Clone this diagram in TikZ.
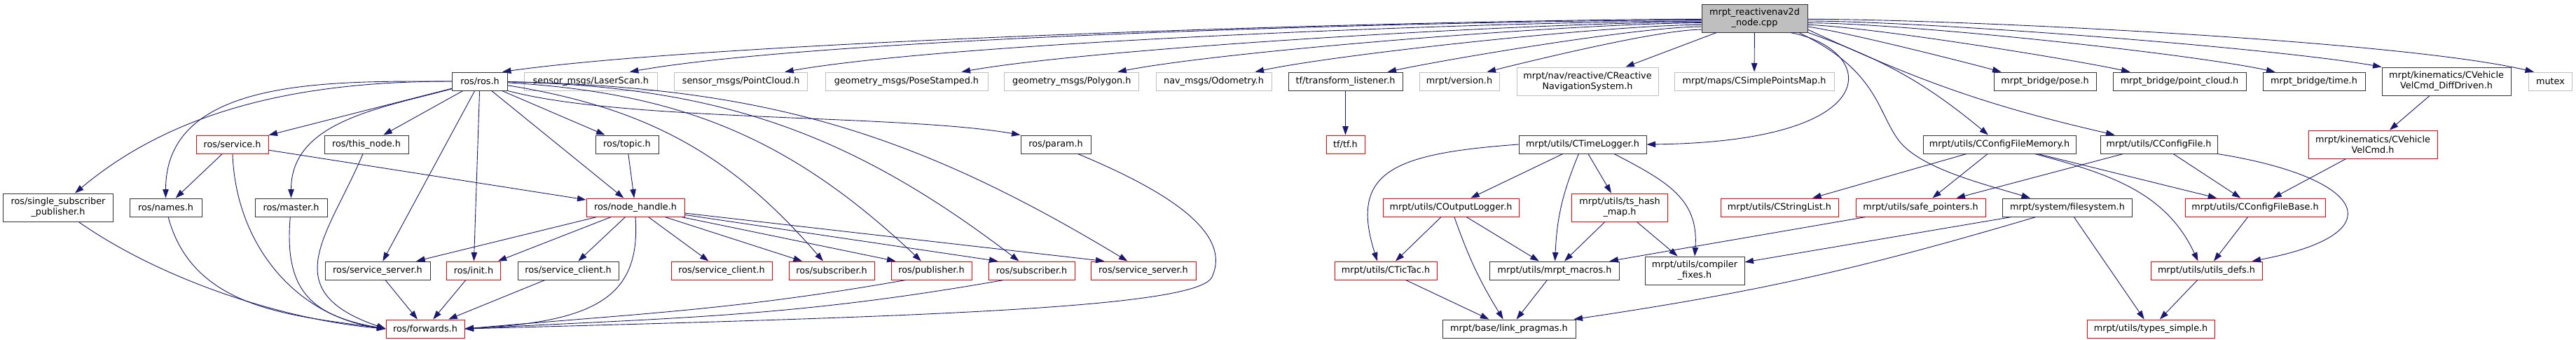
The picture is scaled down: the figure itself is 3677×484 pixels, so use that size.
\documentclass[tikz,border=0pt]{standalone}
\usepackage{fontspec}
\setmainfont{DejaVu Sans}
\usetikzlibrary{arrows.meta,calc}

\definecolor{edgeblue}{HTML}{191970}
\definecolor{grey75}{HTML}{BFBFBF}
% one unit of the picture is one pixel of the graph, drawn at 0.2pt
\def\sc{0.2}
\newcommand{\depfont}{\fontsize{2.56}{3}\selectfont}

\tikzset{
  incbox/.style={draw, rectangle, inner sep=0pt, minimum height=26*\sc pt, line width=0.2pt, font=\depfont, text=black},
  boxw/.style={minimum width=#1*\sc pt},
  blk/.style={incbox, draw=black!80},
  redb/.style={incbox, draw=red},
  gry/.style={incbox, draw=grey75},
  rootf/.style={incbox, draw=black!80, fill=grey75},
  twol/.style={minimum height=40*\sc pt, align=center},
  dep/.style={draw=edgeblue, line width=0.18pt, -{Triangle[length=2.5pt,width=1.7pt]}},
}

\begin{document}
\begin{tikzpicture}[x=\sc pt,y=\sc pt]
\useasboundingbox (0,0) rectangle (3677,484);

% the file itself
\node[rootf, twol, boxw=151] (root) at (2504.5,458) {mrpt\_reactivenav2d\\\_node.cpp};

% first row
\node[blk, boxw=79] (rosros) at (685,368) {ros/ros.h};
\node[gry, boxw=190] (laser) at (843.3,368) {sensor\_msgs/LaserScan.h};
\node[gry, boxw=190] (pcl) at (1057.7,368) {sensor\_msgs/PointCloud.h};
\node[gry, boxw=232] (posest) at (1294,368) {geometry\_msgs/PoseStamped.h};
\node[gry, boxw=192] (polygon) at (1529.8,368) {geometry\_msgs/Polygon.h};
\node[gry, boxw=165] (odom) at (1732.5,368) {nav\_msgs/Odometry.h};
\node[blk, boxw=163] (tflist) at (1920.5,368) {tf/transform\_listener.h};
\node[gry, boxw=114] (version) at (2083,368) {mrpt/version.h};
\node[gry, twol, boxw=202] (creactive) at (2266,368) {mrpt/nav/reactive/CReactive\\NavigationSystem.h};
\node[gry, boxw=228] (simplepts) at (2504,368) {mrpt/maps/CSimplePointsMap.h};
\node[blk, boxw=146] (bpose) at (2919,368) {mrpt\_bridge/pose.h};
\node[blk, boxw=190] (bpcl) at (3111,368) {mrpt\_bridge/point\_cloud.h};
\node[blk, boxw=146] (btime) at (3303,368) {mrpt\_bridge/time.h};
\node[blk, twol, boxw=184] (diffdriven) at (3492,368) {mrpt/kinematics/CVehicle\\VelCmd\_DiffDriven.h};
\node[gry, boxw=62] (mutex) at (3640.5,368) {mutex};

% second row
\node[redb, boxw=103] (service) at (331.5,278) {ros/service.h};
\node[blk, boxw=120] (thisnode) at (523,278) {ros/this\_node.h};
\node[blk, boxw=90] (topic) at (895,278) {ros/topic.h};
\node[blk, boxw=100] (param) at (1507,278) {ros/param.h};
\node[redb, boxw=55] (tftf) at (1920.5,278) {tf/tf.h};
\node[blk, boxw=182] (timelog) at (2259,278) {mrpt/utils/CTimeLogger.h};
\node[blk, boxw=218] (cfgmem) at (2854,278) {mrpt/utils/CConfigFileMemory.h};
\node[blk, boxw=167] (cfgfile) at (3081.5,278) {mrpt/utils/CConfigFile.h};
\node[redb, twol, boxw=184] (velcmd) at (3387,278) {mrpt/kinematics/CVehicle\\VelCmd.h};

% third row
\node[blk, twol, boxw=157] (singlesub) at (83,188) {ros/single\_subscriber\\\_publisher.h};
\node[blk, boxw=103] (names) at (236.5,188) {ros/names.h};
\node[blk, boxw=103] (master) at (415.5,188) {ros/master.h};
\node[redb, boxw=140] (nodehandle) at (907,188) {ros/node\_handle.h};
\node[redb, boxw=194] (outlog) at (2071,188) {mrpt/utils/COutputLogger.h};
\node[redb, twol, boxw=137] (tshash) at (2312,188) {mrpt/utils/ts\_hash\\\_map.h};
\node[redb, boxw=168] (strlist) at (2540,188) {mrpt/utils/CStringList.h};
\node[redb, boxw=185] (safeptr) at (2741.5,188) {mrpt/utils/safe\_pointers.h};
\node[blk, boxw=185] (filesys) at (2951,188) {mrpt/system/filesystem.h};
\node[redb, boxw=200] (cfgbase) at (3219,188) {mrpt/utils/CConfigFileBase.h};

% fourth row
\node[blk, boxw=150] (srvsrvb) at (539,98) {ros/service\_server.h};
\node[redb, boxw=77] (init) at (676,98) {ros/init.h};
\node[blk, boxw=144] (srvclib) at (811,98) {ros/service\_client.h};
\node[redb, boxw=144] (srvclir) at (1030,98) {ros/service\_client.h};
\node[redb, boxw=122] (subr) at (1187,98) {ros/subscriber.h};
\node[redb, boxw=115] (pub) at (1329.5,98) {ros/publisher.h};
\node[redb, boxw=123] (sub2) at (1472.5,98) {ros/subscriber.h};
\node[redb, boxw=150] (srvsrvr) at (1632,98) {ros/service\_server.h};
\node[redb, boxw=146] (tictac) at (1978,98) {mrpt/utils/CTicTac.h};
\node[blk, boxw=185] (macros) at (2219,98) {mrpt/utils/mrpt\_macros.h};
\node[blk, twol, boxw=142] (compfix) at (2419,98) {mrpt/utils/compiler\\\_fixes.h};
\node[redb, boxw=159] (utilsdefs) at (3149.5,98) {mrpt/utils/utils\_defs.h};

% last row
\node[redb, boxw=112] (forwards) at (607,15) {ros/forwards.h};
\node[blk, boxw=190] (linkpr) at (2154,15) {mrpt/base/link\_pragmas.h};
\node[redb, boxw=182] (typessimple) at (3070,15) {mrpt/utils/types\_simple.h};

% includes of the file itself
\draw[dep] (root.181) to[out=180,in=8,looseness=0.5] ($(rosros.north east)+(-8,0)$);
\draw[dep] (root.182) to[out=180,in=10,looseness=0.5] ($(laser.north east)+(-40,0)$);
\draw[dep] (root.183) to[out=180,in=10,looseness=0.5] ($(pcl.north east)+(-33,0)$);
\draw[dep] (root.184) to[out=180,in=10,looseness=0.5] ($(posest.north east)+(-38,0)$);
\draw[dep] (root.185) to[out=180,in=11,looseness=0.5] ($(polygon.north east)+(-31,0)$);
\draw[dep] (root.187) to[out=180,in=12,looseness=0.5] ($(odom.north east)+(-24,0)$);
\draw[dep] (root.189) to[out=180,in=12,looseness=0.5] ($(tflist.north east)+(-22,0)$);
\draw[dep] (root.192) to[out=180,in=14,looseness=0.5] ($(version.north east)+(-18,0)$);
\draw[dep] (root) -- (creactive);
\draw[dep] (root) -- (simplepts);
\draw[dep] (root.-1) to[out=0,in=167,looseness=0.5] ($(mutex.north west)+(8,0)$);
\draw[dep] (root.-3) to[out=0,in=170,looseness=0.5] (diffdriven.north west);
\draw[dep] (root.-5) to[out=0,in=168,looseness=0.5] ($(btime.north west)+(18,0)$);
\draw[dep] (root.-7) to[out=-2,in=168,looseness=0.5] ($(bpcl.north west)+(25,0)$);
\draw[dep] (root.-9) to[out=-8,in=165,looseness=0.5] ($(bpose.north west)+(11,0)$);
\draw[dep] (root.-12) to[bend right=6] (cfgfile);
\draw[dep] (root.-15) to[bend left=10] (cfgmem);
\draw[dep] ($(root.south east)+(-25,0)$) .. controls (2680,414) and (2700,282) .. (timelog.east);
\draw[dep] ($(root.south east)+(-13,0)$) .. controls (2680,384) and (2680,324) .. (2710,284)
  .. controls (2740,244) and (2830,222) .. ($(filesys.north west)+(40,0)$);

% ros/ros.h
\draw[dep] (rosros.west) to[out=180,in=40,looseness=0.9] ($(singlesub.north)+(24,0)$);
\draw[dep] (rosros.west) to[out=180,in=90] (names.north);
\draw[dep] (rosros) -- (service);
\draw[dep] (rosros) -- (thisnode);
\draw[dep] (rosros) to[out=195,in=90] (master.north);
\draw[dep] (rosros) -- (srvsrvb);
\draw[dep] (rosros) -- (init);
\draw[dep] (rosros) -- (nodehandle);
\draw[dep] (rosros) -- (topic);
\draw[dep] (rosros) to[bend left=20] (subr);
\draw[dep] (rosros) to[bend left=20] (pub);
\draw[dep] (rosros) to[bend left=18] (sub2);
\draw[dep] (rosros) to[bend left=15] (srvsrvr);
\draw[dep] (rosros.south east) to[out=-15,in=170,looseness=0.6] (param.north west);

% ros headers below
\draw[dep] (service) -- (names);
\draw[dep] (service) to[out=-88,in=172] (forwards.west);
\draw[dep] (service) -- (nodehandle);
\draw[dep] ($(thisnode.south)+(-5,0)$) .. controls (470,150) and (390,70) .. (forwards.west);
\draw[dep] (names) to[out=-75,in=172] (forwards.west);
\draw[dep] (master) to[out=-95,in=170,looseness=1.3] (forwards.west);
\draw[dep] (singlesub) to[out=-35,in=175,looseness=0.8] (forwards.west);
\draw[dep] (topic) -- (nodehandle);
\draw[dep] (nodehandle) -- (srvsrvb);
\draw[dep] (nodehandle) -- (init);
\draw[dep] (nodehandle) -- (srvclib);
\draw[dep] (nodehandle) -- (srvclir);
\draw[dep] (nodehandle) -- (subr);
\draw[dep] (nodehandle) -- ($(pub.north west)+(7,0)$);
\draw[dep] (nodehandle) -- ($(sub2.north west)+(14,0)$);
\draw[dep] (nodehandle) -- ($(srvsrvr.north west)+(20,0)$);
\draw[dep] (nodehandle.south) .. controls (915,60) and (850,25) .. (forwards.east);
\draw[dep] (srvsrvb) -- (forwards);
\draw[dep] (init) -- (forwards);
\draw[dep] (srvclib) -- (forwards);
\draw[dep] ($(pub.south west)+(21,0)$) to[out=190,in=5] (forwards.east);
\draw[dep] ($(sub2.south west)+(22,0)$) to[out=190,in=3] (forwards.east);
\draw[dep] ($(param.south east)+(-19,0)$) .. controls (1660,214) and (1760,154) .. (1730,89)
  .. controls (1710,44) and (1300,32) .. (forwards.east);

% tf
\draw[dep] (tflist) -- (tftf);

% mrpt utils
\draw[dep] (timelog.west) .. controls (1990,265) and (1925,240) .. ($(tictac.north)+(-12,0)$);
\draw[dep] (timelog) -- (outlog);
\draw[dep] (timelog) to[bend right=10] (macros);
\draw[dep] (timelog) -- (tshash);
\draw[dep] ($(timelog.south)+(45,0)$) .. controls (2380,225) and (2425,200) .. (compfix.north);
\draw[dep] (outlog) -- (tictac);
\draw[dep] (outlog) to[bend right=6] (linkpr);
\draw[dep] (outlog) -- (macros);
\draw[dep] (tshash) -- (macros);
\draw[dep] (tshash) -- (compfix);
\draw[dep] (tictac) -- (linkpr);
\draw[dep] (macros) -- (linkpr);
\draw[dep] (safeptr) -- (macros);
\draw[dep] (filesys) -- (compfix);
\draw[dep] ($(filesys.south)+(-45,0)$) to[bend left=4] ($(linkpr.north east)+(-3,0)$);
\draw[dep] (filesys) -- (typessimple);
\draw[dep] (cfgmem) -- (strlist);
\draw[dep] (cfgmem) -- (safeptr);
\draw[dep] (cfgmem) -- (cfgbase);
\draw[dep] (cfgmem) to[out=-15,in=115] ($(utilsdefs.north)+(-12,0)$);
\draw[dep] (cfgfile) -- (safeptr);
\draw[dep] (cfgfile) -- (cfgbase);
\draw[dep] (cfgfile.south east) .. controls (3380,230) and (3420,150) .. ($(utilsdefs.north east)+(-15,0)$);
\draw[dep] (diffdriven) -- (velcmd);
\draw[dep] (velcmd) -- (cfgbase);
\draw[dep] (cfgbase) -- (utilsdefs);
\draw[dep] (utilsdefs) -- (typessimple);
\end{tikzpicture}
\end{document}
